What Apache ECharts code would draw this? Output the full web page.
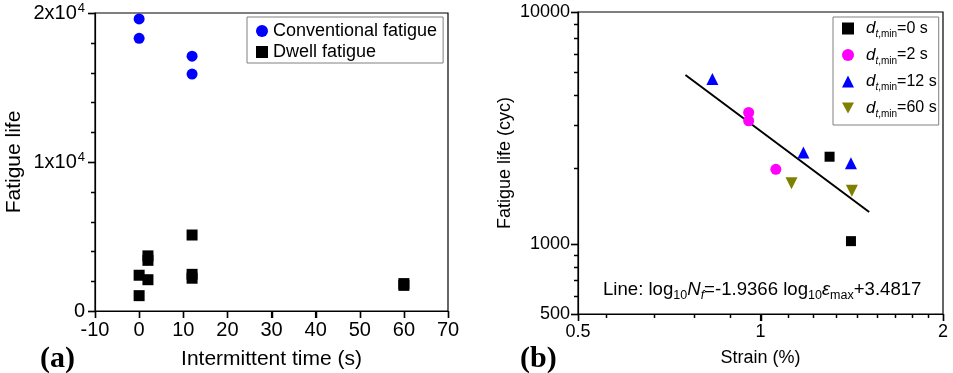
<!DOCTYPE html>
<html><head><meta charset="utf-8">
<script src="https://cdn.jsdelivr.net/npm/echarts@6/dist/echarts.min.js"></script>
<style>html,body{margin:0;padding:0;background:#fff}#c{width:953px;height:373px}</style>
</head><body><div id="c"></div>
<script>
// ---- Panel (a): fatigue life vs intermittent time ----
const convTime = [0, 0, 12, 12];
const convLife = [19600, 18300, 17100, 15900];
const dwellTime = [0, 0, 2, 2, 2, 12, 12, 12, 60, 60];
const dwellLife = [2400, 1030, 3700, 3400, 2100, 5100, 2460, 2200, 1840, 1720];
const timeTicks = [-10, 0, 10, 20, 30, 40, 50, 60, 70];
const lifeTicksA = [0, 10000, 20000];
const lifeMinorTicksA = [2000, 4000, 6000, 8000, 12000, 14000, 16000, 18000];

// ---- Panel (b): fatigue life vs strain (log-log) ----
const strain0 = [1.30, 1.41];   const life0 = [2380, 1030];
const strain2 = [0.956, 0.956, 1.06]; const life2 = [3690, 3400, 2100];
const strain12 = [0.833, 1.177, 1.41]; const life12 = [5150, 2480, 2230];
const strain60 = [1.125, 1.415]; const life60 = [1830, 1700];
const fitStrain = [0.752, 1.511]; const fitLife = [5350, 1375];
const strainTicks = [0.5, 1, 2];
const lifeTicksB = [500, 1000, 10000];
const strainMinorTicks = [0.556, 0.667, 0.778, 0.889, 1.111, 1.222, 1.333, 1.444, 1.556, 1.667, 1.778, 1.889];
const lifeMinorTicksB = [600, 700, 800, 900, 2125, 3250, 4375, 5500, 6625, 7750, 8875];

const FONT = '"Liberation Sans", Arial, sans-serif';
const SERIF = '"Liberation Serif", "Times New Roman", serif';
const pairs = (xs, ys) => xs.map((x, i) => [x, ys[i]]);

const chart = echarts.init(document.getElementById('c'), null, {renderer: 'canvas'});

const blk = '#000';
const axisCommon = {
  axisLine: {show: true, onZero: false, lineStyle: {color: blk, width: 1.2}},
  axisTick: {show: true, inside: false, length: 7, lineStyle: {color: blk, width: 1.2}},
  splitLine: {show: false}
};

function legendName(name) {
  const n = name.split('=')[1];
  return '{d|d}{st|t}{s|,min}{n|=' + n + '}';
}

const baseGraphic = [
  {type: 'text', left: 40, top: 344, silent: true,
    style: {text: '(a)', font: 'bold 30px ' + SERIF, fill: blk}},
  {type: 'text', left: 520, top: 344, silent: true,
    style: {text: '(b)', font: 'bold 30px ' + SERIF, fill: blk}},
  {type: 'text', left: 603, top: 280, silent: true, z: 10,
    style: {
      text: '{m|Line: log}{sub|10}{i|N}{isub|f}{m|=-1.9366 log}{sub|10}{i|\u03b5}{sub|max}{m|+3.4817}',
      rich: {
        m: {fontSize: 18.6, fontFamily: FONT, fill: blk, lineHeight: 26, verticalAlign: 'middle'},
        i: {fontSize: 18.6, fontFamily: FONT, fontStyle: 'italic', fill: blk, lineHeight: 26, verticalAlign: 'middle'},
        sub: {fontSize: 12.5, fontFamily: FONT, fill: blk, lineHeight: 26, verticalAlign: 'bottom'},
        isub: {fontSize: 12.5, fontFamily: FONT, fontStyle: 'italic', fill: blk, lineHeight: 26, verticalAlign: 'bottom'}
      }
    }}
];

const option = {
  animation: false,
  backgroundColor: '#fff',
  grid: [
    {left: 95, top: 13, width: 353, height: 298, show: true, borderColor: blk, borderWidth: 1.2,
      backgroundColor: 'transparent', containLabel: false, outerBoundsMode: 'none'},
    {left: 578, top: 12, width: 365, height: 302, show: true, borderColor: blk, borderWidth: 1.2,
      backgroundColor: 'transparent', containLabel: false, outerBoundsMode: 'none'}
  ],
  xAxis: [
    Object.assign({}, axisCommon, {
      gridIndex: 0, type: 'value', min: timeTicks[0], max: timeTicks[timeTicks.length - 1], interval: 10,
      name: 'Intermittent time (s)', nameLocation: 'middle', nameGap: 38,
      nameTextStyle: {fontSize: 21, fontFamily: FONT, color: blk},
      axisLabel: {fontSize: 20, fontFamily: FONT, color: blk, margin: 9, showMinLabel: true, showMaxLabel: true}
    }),
    Object.assign({}, axisCommon, {
      gridIndex: 1, type: 'log', logBase: 2, min: strainTicks[0], max: strainTicks[strainTicks.length - 1],
      name: 'Strain (%)', nameLocation: 'middle', nameGap: 35,
      nameTextStyle: {fontSize: 18, fontFamily: FONT, color: blk},
      axisLabel: {fontSize: 18, fontFamily: FONT, color: blk, margin: 9, showMinLabel: true, showMaxLabel: true,
        formatter: v => String(Math.round(v * 100) / 100)}
    })
  ],
  yAxis: [
    Object.assign({}, axisCommon, {
      gridIndex: 0, type: 'value', min: lifeTicksA[0], max: lifeTicksA[lifeTicksA.length - 1], interval: 10000,
      name: 'Fatigue life', nameLocation: 'middle', nameGap: 70,
      nameTextStyle: {fontSize: 21, fontFamily: FONT, color: blk},
      axisLabel: {
        margin: 10, showMinLabel: true, showMaxLabel: true,
        formatter: v => v === 0 ? '{m|0}' : '{m|' + Math.round(v / 10000) + 'x10}{sup|4}',
        rich: {
          m: {fontSize: 20, fontFamily: FONT, color: blk, lineHeight: 22},
          sup: {fontSize: 13, fontFamily: FONT, color: blk, lineHeight: 22, verticalAlign: 'top', padding: [0, 0, 0, 1]}
        }
      }
    }),
    Object.assign({}, axisCommon, {
      gridIndex: 1, type: 'log', logBase: 10, min: lifeTicksB[0], max: lifeTicksB[lifeTicksB.length - 1],
      name: 'Fatigue life (cyc)', nameLocation: 'middle', nameGap: 64,
      nameTextStyle: {fontSize: 18, fontFamily: FONT, color: blk},
      axisLabel: {fontSize: 18, fontFamily: FONT, color: blk, margin: 8, showMinLabel: true, showMaxLabel: true,
        formatter: v => String(Math.round(v))}
    })
  ],
  legend: [
    {
      data: [{name: 'Conventional fatigue', icon: 'circle'}, {name: 'Dwell fatigue', icon: 'rect'}],
      orient: 'vertical', left: 247, top: 17, itemWidth: 12, itemHeight: 12, itemGap: 3,
      padding: [5, 6, 2, 9], borderColor: '#808080', borderWidth: 1, backgroundColor: '#fff',
      textStyle: {fontSize: 18, fontFamily: FONT, color: blk, lineHeight: 18},
      selectedMode: false
    },
    {
      data: [
        {name: 'dt,min=0 s', icon: 'rect'},
        {name: 'dt,min=2 s', icon: 'circle'},
        {name: 'dt,min=12 s', icon: 'triangle'},
        {name: 'dt,min=60 s', icon: 'path://M0,0L10,0L5,9Z'}
      ],
      orient: 'vertical', left: 833, top: 17, itemWidth: 12, itemHeight: 12, itemGap: 7,
      padding: [3, 2, 6, 9], borderColor: '#808080', borderWidth: 1, backgroundColor: '#fff',
      formatter: legendName,
      textStyle: {
        fontSize: 16, fontFamily: FONT, color: blk,
        rich: {
          d: {fontSize: 17, fontFamily: FONT, fontStyle: 'italic', color: blk, lineHeight: 22, verticalAlign: 'middle', padding: [0, 0, 0, 7]},
          st: {fontSize: 10, fontFamily: FONT, fontStyle: 'italic', color: blk, lineHeight: 22, verticalAlign: 'bottom'},
          s: {fontSize: 10, fontFamily: FONT, color: blk, lineHeight: 22, verticalAlign: 'bottom'},
          n: {fontSize: 16, fontFamily: FONT, color: blk, lineHeight: 22, verticalAlign: 'middle'}
        }
      },
      selectedMode: false
    }
  ],
  series: [
    {name: 'Conventional fatigue', type: 'scatter', xAxisIndex: 0, yAxisIndex: 0, symbol: 'circle', symbolSize: 11,
      itemStyle: {color: '#0000ff', opacity: 1}, data: pairs(convTime, convLife), z: 5},
    {name: 'Dwell fatigue', type: 'scatter', xAxisIndex: 0, yAxisIndex: 0, symbol: 'rect', symbolSize: 11,
      itemStyle: {color: blk, opacity: 1}, data: pairs(dwellTime, dwellLife), z: 5},
    {name: 'fit', type: 'line', xAxisIndex: 1, yAxisIndex: 1, symbol: 'none', silent: true,
      lineStyle: {color: blk, width: 2}, data: pairs(fitStrain, fitLife), z: 3},
    {name: 'dt,min=0 s', type: 'scatter', xAxisIndex: 1, yAxisIndex: 1, symbol: 'rect', symbolSize: 10,
      itemStyle: {color: blk, opacity: 1}, data: pairs(strain0, life0), z: 5},
    {name: 'dt,min=2 s', type: 'scatter', xAxisIndex: 1, yAxisIndex: 1, symbol: 'circle', symbolSize: 11,
      itemStyle: {color: '#ff00ff', opacity: 1}, data: pairs(strain2, life2), z: 5},
    {name: 'dt,min=12 s', type: 'scatter', xAxisIndex: 1, yAxisIndex: 1, symbol: 'triangle', symbolSize: 12,
      itemStyle: {color: '#0000ff', opacity: 1}, data: pairs(strain12, life12), z: 5},
    {name: 'dt,min=60 s', type: 'scatter', xAxisIndex: 1, yAxisIndex: 1, symbol: 'path://M0,0L10,0L5,9Z', symbolSize: 12,
      itemStyle: {color: '#808000', opacity: 1}, data: pairs(strain60, life60), z: 5}
  ]
};
chart.setOption(option);

// ---- minor/major ticks (outward), positioned through the chart's own scales ----
const ticks = [];
function addXTicks(axisIdx, yAxisIdx, values, yMinVal, len) {
  const base = chart.convertToPixel({xAxisIndex: axisIdx, yAxisIndex: yAxisIdx}, [values[0], yMinVal])[1];
  values.forEach(v => {
    const px = Math.round(chart.convertToPixel({xAxisIndex: axisIdx}, v)) + 0.5;
    ticks.push({type: 'line', z: 50,
      shape: {x1: px, y1: base, x2: px, y2: base + len}, style: {stroke: blk, lineWidth: 1.5}});
  });
}
function addYTicks(axisIdx, xAxisIdx, values, xMinVal, len) {
  const base = chart.convertToPixel({xAxisIndex: xAxisIdx, yAxisIndex: axisIdx}, [xMinVal, values[0]])[0];
  values.forEach(v => {
    const py = Math.round(chart.convertToPixel({yAxisIndex: axisIdx}, v)) + 0.5;
    ticks.push({type: 'line', z: 50,
      shape: {x1: base - len, y1: py, x2: base, y2: py}, style: {stroke: blk, lineWidth: 1.5}});
  });
}
addXTicks(0, 0, timeTicks, lifeTicksA[0], 7);
addYTicks(0, 0, lifeTicksA, timeTicks[0], 7);
addYTicks(0, 0, lifeMinorTicksA, timeTicks[0], 4);
addXTicks(1, 1, strainTicks, lifeTicksB[0], 7);
addXTicks(1, 1, strainMinorTicks, lifeTicksB[0], 4);
addYTicks(1, 1, lifeTicksB, strainTicks[0], 7);
addYTicks(1, 1, lifeMinorTicksB, strainTicks[0], 4);
chart.setOption({graphic: baseGraphic.concat(ticks)});
</script>
</body></html>
